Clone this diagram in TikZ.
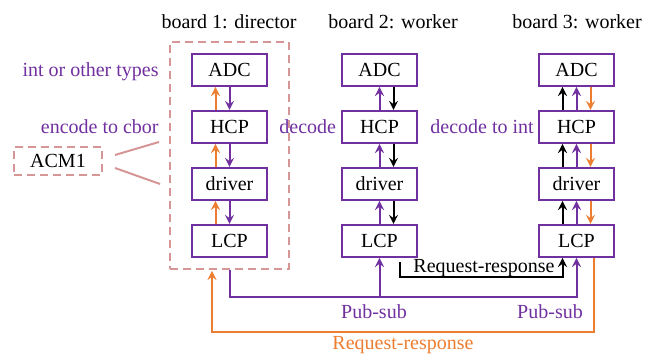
\documentclass[tikz,border=0pt]{standalone}
\usepackage{fontspec}
\setmainfont{Liberation Serif}
\usepackage{tikz}
\usetikzlibrary{arrows, fit}
\definecolor{purp}{RGB}{112,48,160}
\definecolor{orng}{RGB}{237,125,49}
\definecolor{rose}{RGB}{214,150,150}
\tikzstyle{block} = [rectangle,
minimum width=37.5pt,
minimum height=16pt,
inner sep=0pt,
text centered,
draw=purp,
line width=1pt]
\tikzstyle{group} = [rectangle,
draw=rose,
line width=1pt,
dash pattern=on 4pt off 2.5pt]
\tikzstyle{note} = [text=purp, inner sep=1pt]
\tikzstyle{arrow} = [line width=1pt,->,>=stealth]

\begin{document}
\begin{tikzpicture}[x=0.5pt, y=0.5pt, node distance=28.5pt]
            \useasboundingbox (0,0) rectangle (654,356);
            % boards
            \node (adc1) [block] at (229.5,286) {ADC};
            \node (hcp1) [block, below of=adc1] {HCP};
            \node (drv1) [block, below of=hcp1] {driver};
            \node (lcp1) [block, below of=drv1] {LCP};
            \node (adc2) [block] at (379.5,286) {ADC};
            \node (hcp2) [block, below of=adc2] {HCP};
            \node (drv2) [block, below of=hcp2] {driver};
            \node (lcp2) [block, below of=drv2] {LCP};
            \node (adc3) [block] at (576.5,286) {ADC};
            \node (hcp3) [block, below of=adc3] {HCP};
            \node (drv3) [block, below of=hcp3] {driver};
            \node (lcp3) [block, below of=drv3] {LCP};
            \node (dir1) [group, fit=(adc1)(lcp1), inner xsep=10.5pt, inner ysep=5.5pt] {};
            \node (acm) [group, minimum width=44pt, minimum height=14pt] at (58,195) {ACM1};

            \node (t1) at (229,334) {board 1: director};
            \node (t2) at (393,334) {board 2: worker};
            \node (t3) at (577,334) {board 3: worker};
            \node (types) [note, anchor=east] at (161,284) {int or other types};
            \node (enc) [note, anchor=east] at (161,229) {encode to cbor};
            \node (dec) [note, anchor=west] at (277,229) {decode};
            \node (decint) [note, anchor=west] at (428,229) {decode to int};

            % ACM1 lines
            \coordinate (a1) at (115,201);
            \coordinate (a2) at (159,214);
            \coordinate (a3) at (115,188);
            \coordinate (a4) at (160,172);
            \draw [rose, line width=1pt] (a1) -- (a2);
            \draw [rose, line width=1pt] (a3) -- (a4);

            % inside the boards
            \foreach \a/\b in {adc/hcp, hcp/drv, drv/lcp} {
                \draw [arrow, orng] ([xshift=-7pt]\b1.north) -- ([xshift=-7pt]\a1.south);
                \draw [arrow, purp] (\a1) -- (\b1);
                \draw [arrow, purp] (\b2) -- (\a2);
                \draw [arrow] ([xshift=7pt]\a2.south) -- ([xshift=7pt]\b2.north);
                \draw [arrow] ([xshift=-7pt]\b3.north) -- ([xshift=-7pt]\a3.south);
                \draw [arrow, purp] (\b3) -- (\a3);
                \draw [arrow, orng] ([xshift=7pt]\a3.south) -- ([xshift=7pt]\b3.north);
            }

            % pub-sub
            \coordinate (psstart) at (229.5,86);
            \coordinate (psbus) at (0,59);
            \draw [arrow, purp] (psstart) |- (psbus -| lcp3) -- (lcp3);
            \draw [arrow, purp] (psbus -| lcp2) -- (lcp2);
            \node (ps1) [note] at (374,44) {Pub-sub};
            \node (ps2) [note] at (550,44) {Pub-sub};

            % request-response
            \coordinate (rrbus) at (0,24);
            \coordinate (rrend) at (212,85);
            \draw [arrow, orng] ([xshift=8.5pt]lcp3.south) |- (rrbus -| rrend) -- (rrend);
            \node (rr1) [text=orng] at (403,11) {Request-response};
            \coordinate (bbus) at (0,79);
            \draw [arrow] ([xshift=10pt,yshift=-2pt]lcp2.south) |- ([xshift=-7pt]lcp3.south |- bbus) -- ([xshift=-7pt]lcp3.south);
            \node (rr2) at (484,88) {Request-response};
        \end{tikzpicture}
\end{document}
